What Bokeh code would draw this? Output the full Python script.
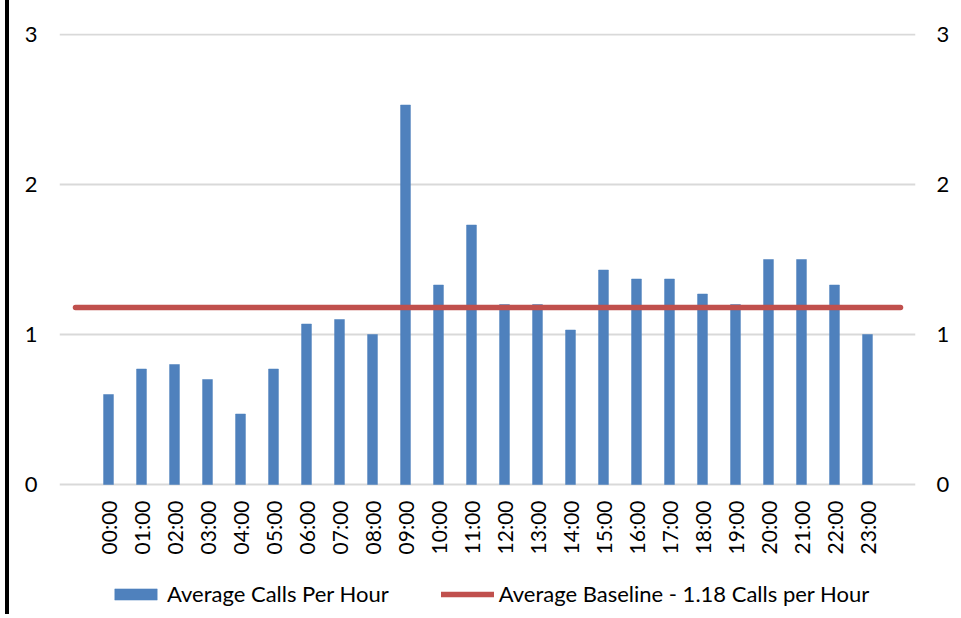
import math
from bokeh.plotting import figure
from bokeh.layouts import row
from bokeh.models import Range1d, FixedTicker, LinearAxis, Legend, LegendItem, Div
from bokeh.core.properties import value
from bokeh.embed import file_html
from bokeh.resources import INLINE

hours = ["00:00", "01:00", "02:00", "03:00", "04:00", "05:00", "06:00", "07:00",
         "08:00", "09:00", "10:00", "11:00", "12:00", "13:00", "14:00", "15:00",
         "16:00", "17:00", "18:00", "19:00", "20:00", "21:00", "22:00", "23:00"]
calls = [0.6, 0.77, 0.8, 0.7, 0.47, 0.77, 1.07, 1.1, 1.0, 2.53, 1.33, 1.73,
         1.2, 1.2, 1.03, 1.43, 1.37, 1.37, 1.27, 1.2, 1.5, 1.5, 1.33, 1.0]
baseline = 1.18
y_ticks = [0, 1, 2, 3]

FONT = "Lato"

idx = list(range(len(hours)))
px = 1 / 150.0  # one pixel in y data units

p = figure(width=950, height=612, output_backend="svg", toolbar_location=None,
           x_range=Range1d(-1.485, 24.455), y_range=Range1d(-128 * px, 3 + px),
           min_border_left=50, min_border_right=44, min_border_top=33,
           min_border_bottom=0, y_axis_location=None, x_axis_location=None)
p.outline_line_color = None
p.background_fill_color = "white"
p.border_fill_color = "white"
p.margin = 0

bars = p.vbar(x=idx, top=calls, width=0.3, fill_color="#4f81bd",
              line_color="#4f81bd", line_width=0.5)
base = p.line(x=[-1, len(hours)], y=[baseline, baseline], line_color="#c0504d",
              line_width=5.5, line_cap="round")

# hour labels under the category positions (vertical, reading upward)
p.text(x=idx, y=[0] * len(hours), text=hours, angle=math.pi / 2,
       text_align="right", text_baseline="middle", y_offset=16,
       text_font=value(FONT), text_font_size="21px", text_color="black")

p.xgrid.visible = False
p.ygrid.ticker = FixedTicker(ticks=y_ticks)
p.ygrid.grid_line_color = "#d9d9d9"
p.ygrid.grid_line_width = 2

for loc, standoff in (("left", 22), ("right", 21)):
    ax = LinearAxis(ticker=FixedTicker(ticks=y_ticks))
    ax.axis_line_color = None
    ax.major_tick_line_color = None
    ax.minor_tick_line_color = None
    ax.major_tick_out = 0
    ax.major_tick_in = 0
    ax.minor_tick_out = 0
    ax.major_label_standoff = standoff
    ax.major_label_text_font = FONT
    ax.major_label_text_font_size = "22px"
    ax.major_label_text_color = "black"
    p.add_layout(ax, loc)

legend = Legend(items=[LegendItem(label="Average Calls Per Hour", renderers=[bars]),
                       LegendItem(label="Average Baseline - 1.18 Calls per Hour", renderers=[base])],
                orientation="horizontal", location=(50, 5))
legend.label_text_font = FONT
legend.label_text_font_size = "22px"
legend.label_text_color = "black"
legend.glyph_width = 53
legend.glyph_height = 14
legend.label_standoff = 5
legend.spacing = 52
legend.border_line_color = None
legend.background_fill_alpha = 0
legend.padding = 2
legend.margin = 0
p.add_layout(legend, "center")

edge = Div(text="", width=4, height=614, margin=(0, 0, 0, 5),
           styles={"background-color": "black"})

layout = row(edge, p)
open("out.html", "w").write(file_html(layout, INLINE))
